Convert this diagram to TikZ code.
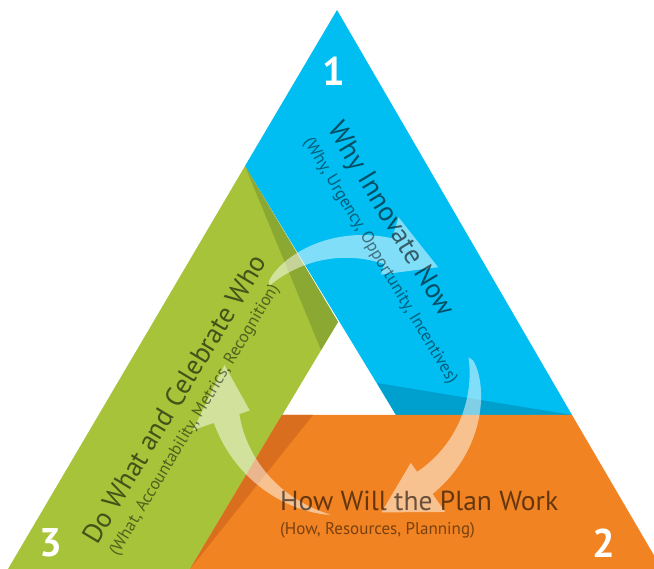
\documentclass[tikz,border=0pt]{standalone}
\usepackage{fontspec}
\setmainfont{PT Sans}

\definecolor{whyblue}{RGB}{0,189,242}
\definecolor{whyshadow}{RGB}{0,160,206}
\definecolor{dogreen}{RGB}{166,195,58}
\definecolor{doshadow}{RGB}{139,168,50}
\definecolor{howorange}{RGB}{242,131,34}
\definecolor{howshadow}{RGB}{216,110,30}

\begin{document}
\begin{tikzpicture}[x=1pt, y=1pt]
    % Define styles
    \tikzset{
        title/.style={
            font=\fontsize{27.5}{30}\selectfont,
            text=black,
            text opacity=0.58,
            inner sep=0pt
        },
        subtitle/.style={
            font=\fontsize{17}{19}\selectfont,
            text=black,
            text opacity=0.5,
            inner sep=0pt
        },
        number/.style={
            font=\fontsize{40}{40}\selectfont\bfseries,
            text=white,
            inner sep=0pt
        },
        flow/.style={
            fill=white,
            fill opacity=0.5
        }
    }

    \clip (0,0) rectangle (654,569);

    % Corners of the big triangle and of the hole
    \coordinate (apex) at (337,559);
    \coordinate (bl) at (8,0);
    \coordinate (br) at (662,0);
    \coordinate (lmid) at (245,403);
    \coordinate (rmid) at (572,154);
    \coordinate (bmid) at (190,0);
    \coordinate (itop) at (338,247);
    \coordinate (ileft) at (282,154);
    \coordinate (iright) at (396,154);

    % Band 1: Why
    \fill[whyblue] (apex) -- (rmid) -- (iright) -- (lmid) -- cycle;
    \fill[whyshadow] (377,186) -- (rmid) -- (iright) -- cycle;

    % Band 3: Do What
    \fill[dogreen] (lmid) -- (itop) -- (bmid) -- (bl) -- cycle;
    \fill[doshadow] (lmid) -- (itop) -- (321,219) -- cycle;

    % Band 2: How
    \fill[howorange] (ileft) -- (rmid) -- (br) -- (bmid) -- cycle;
    \fill[howshadow] (ileft) -- (313,154) -- (bmid) -- cycle;

    % Cycle arrows round the hole (tapered tail, head at the end)
    \begin{scope}[shift={(350,193)}]
        \foreach \tail/\base/\tip/\rtip/\rt in {132/73/51/140/121, 9/-55/-77/140/120, 262/199/175/126/140}
            \fill[flow]
                plot[domain=\tail:\base, samples=40] (\x:{\rt+(144-\rt)*sqrt((\x-\tail)/(\base-\tail))})
                -- (\base:166) -- (\tip:\rtip) -- (\base:106)
                -- plot[domain=\base:\tail, samples=40] (\x:{\rt+(117-\rt)*(\x-\tail)/(\base-\tail)})
                -- cycle;
    \end{scope}

    % Numbers
    \node[number] (num1) at (334,498) {1};
    \node[number] (num2) at (604,26) {2};
    \node[number] (num3) at (51,26) {3};

    % Labels
    \node[title, rotate=-59] (why) at (390,349) {Why Innovate Now};
    \node[subtitle, rotate=-59] (whysub) at (380,308) {(Why, Urgency, Opportunity, Incentives)};
    \node[title, anchor=base west] (how) at (280,58) {How Will the Plan Work};
    \node[subtitle, anchor=base west] (howsub) at (280,34) {(How, Resources, Planning)};
    \node[title, rotate=59] (dowhat) at (174,170) {Do What and Celebrate Who};
    \node[subtitle, rotate=59] (dowhatsub) at (195,149) {(What, Accountability, Metrics, Recognition)};

\end{tikzpicture}
\end{document}
